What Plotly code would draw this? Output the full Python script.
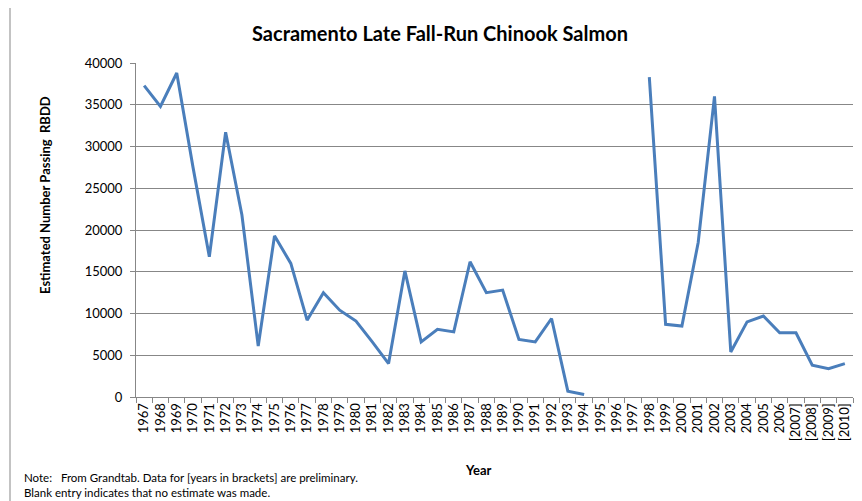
import plotly.graph_objects as go

years = ["1967", "1968", "1969", "1970", "1971", "1972", "1973", "1974", "1975", "1976",
         "1977", "1978", "1979", "1980", "1981", "1982", "1983", "1984", "1985", "1986",
         "1987", "1988", "1989", "1990", "1991", "1992", "1993", "1994", "1995", "1996",
         "1997", "1998", "1999", "2000", "2001", "2002", "2003", "2004", "2005", "2006",
         "[2007]", "[2008]", "[2009]", "[2010]"]
passing = [37300, 34800, 38800, 27500, 16800, 31700, 21800, 6100, 19300, 16000,
           9200, 12500, 10400, 9100, 6600, 4000, 15100, 6600, 8100, 7800,
           16200, 12500, 12800, 6900, 6600, 9400, 700, 300, None, None,
           None, 38300, 8700, 8500, 18500, 36000, 5400, 9000, 9700, 7700,
           7700, 3800, 3400, 4000]

# page body has an 8px margin: figure is offset by (8, 8) on screen
OFF = 8
W, H = 862 - OFF, 501 - OFF
# plot area in screen pixels: x 136..853, y 63..397
L = 136 - OFF
T = 63 - OFF
R = W - (853 - OFF)
B = H - (397 - OFF)
PW, PH = W - L - R, H - T - B


def px(x):
    """screen x -> paper x"""
    return (x - OFF - L) / PW


def py(y):
    """screen y -> paper y"""
    return (H - B - (y - OFF)) / PH


FONT = "Lato"
GRAY = "#878787"

fig = go.Figure()
fig.add_trace(go.Scatter(
    x=years, y=passing, mode="lines",
    line=dict(color="#4a7ebb", width=3),
    connectgaps=False, showlegend=False, hoverinfo="x+y",
))

fig.update_layout(
    width=W, height=H,
    margin=dict(l=L, r=R, t=T, b=B, pad=0),
    paper_bgcolor="white", plot_bgcolor="white",
    font=dict(family=FONT, color="black"),
    xaxis=dict(
        type="category", range=[-0.5, len(years) - 0.5],
        showline=True, linecolor=GRAY, linewidth=1,
        ticks="outside", tickson="boundaries", ticklen=5, tickcolor=GRAY,
        tickangle=-90, tickfont=dict(size=13, family=FONT),
        showgrid=False, zeroline=False,
    ),
    yaxis=dict(
        range=[0, 40000], dtick=5000, tick0=0,
        showline=True, linecolor=GRAY, linewidth=1,
        ticks="outside", ticklen=5, tickcolor=GRAY,
        ticklabelstandoff=5,
        tickfont=dict(size=13, family=FONT),
        showgrid=True, gridcolor=GRAY, gridwidth=1,
        zeroline=False, tickformat="d",
    ),
    shapes=[
        dict(type="line", xref="paper", yref="paper",
             x0=px(10), x1=px(880), y0=py(7), y1=py(7),
             line=dict(color=GRAY, width=1)),
        dict(type="line", xref="paper", yref="paper",
             x0=px(10), x1=px(10), y0=py(7), y1=py(520),
             line=dict(color=GRAY, width=1)),
    ],
    annotations=[
        dict(text="<b>Sacramento Late Fall-Run Chinook Salmon</b>",
             xref="paper", yref="paper", x=px(440), y=py(33),
             xanchor="center", yanchor="middle", showarrow=False,
             font=dict(size=20, family=FONT)),
        dict(text="<b>Estimated Number Passing  RBDD</b>",
             xref="paper", yref="paper", x=px(45), y=py(195),
             xanchor="center", yanchor="middle", showarrow=False,
             textangle=-90, font=dict(size=13, family=FONT)),
        dict(text="<b>Year</b>",
             xref="paper", yref="paper", x=px(478), y=py(470),
             xanchor="center", yanchor="middle", showarrow=False,
             font=dict(size=13, family=FONT)),
        dict(text="Note:   From Grandtab. Data for [years in brackets] are preliminary.",
             xref="paper", yref="paper", x=px(22), y=py(477),
             xanchor="left", yanchor="middle", showarrow=False,
             font=dict(size=11.5, family=FONT)),
        dict(text="Blank entry indicates that no estimate was made.",
             xref="paper", yref="paper", x=px(22), y=py(492),
             xanchor="left", yanchor="middle", showarrow=False,
             font=dict(size=11.5, family=FONT)),
    ],
)

fig.write_html("out.html")
